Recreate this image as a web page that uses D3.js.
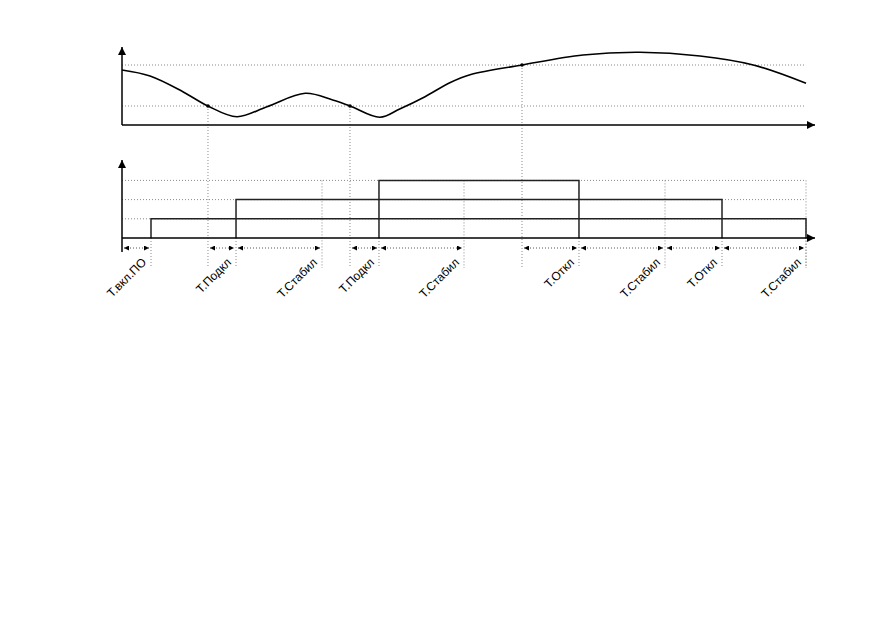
<!DOCTYPE html>
<html>
<head>
<meta charset="utf-8">
<script src="https://cdn.jsdelivr.net/npm/d3@7"></script>
<style>
  html, body { margin: 0; padding: 0; background: #fff; }
  svg { display: block; }
</style>
</head>
<body>
<svg id="chart" width="872" height="618"></svg>
<script>
// ---- data ----
// curve (top chart): time, value
const curveT = [0, 4.1, 8.9, 12.57, 16.8, 21.2, 26.8, 30.8, 33.33, 37.7, 40.6, 44.3, 48, 51, 58.48, 67.4, 75.7, 84.5, 92.3, 100];
const curveV = [55, 49, 33.3, 19, 8.3, 18.3, 31.7, 25, 19, 7.7, 16, 28.3, 42.5, 50.5, 60, 70, 72.7, 69, 60, 41.7];
const thresholdLevels = [19, 60];
const markedT = [12.57, 33.33, 58.48];
const markedV = [19, 19, 60];

// steps (bottom chart)
const stepLevels = [1, 2, 3];
const stepStart = [4.24, 16.67, 37.57];
const stepEnd = [100, 87.72, 66.81];

// intervals along time axis
const intervalStart = [0, 12.57, 16.67, 33.33, 37.57, 58.48, 66.81, 79.39, 87.72];
const intervalEnd = [4.24, 16.67, 29.24, 37.57, 50, 66.81, 79.39, 87.72, 100];
const intervalLabels = ["Т.вкл.ПО", "Т.Подкл", "Т.Стабил", "Т.Подкл", "Т.Стабил", "Т.Откл", "Т.Стабил", "Т.Откл", "Т.Стабил"];

// extra guide times that start at the top step level
const guideTopT = [29.24, 50, 79.39, 100];

// ---- scales ----
const svg = d3.select("#chart");
const x = d3.scaleLinear().domain([0, 100]).range([122, 806]);
const yTop = d3.scaleLinear().domain([0, 80]).range([125, 45]);
const yBot = d3.scaleLinear().domain([0, 4]).range([238, 161.2]);

const axisEnd = 815;
const dotted = "#8a8a8a";

// arrow markers
const defs = svg.append("defs");
defs.append("marker").attr("id", "axArrow").attr("viewBox", "0 0 10 10")
  .attr("refX", 10).attr("refY", 5).attr("markerWidth", 8).attr("markerHeight", 8)
  .attr("markerUnits", "userSpaceOnUse").attr("orient", "auto")
  .append("path").attr("d", "M0,0 L10,5 L0,10 z").attr("fill", "#000");
defs.append("marker").attr("id", "smArrowEnd").attr("viewBox", "0 0 10 10")
  .attr("refX", 10).attr("refY", 5).attr("markerWidth", 5).attr("markerHeight", 5)
  .attr("markerUnits", "userSpaceOnUse").attr("orient", "auto")
  .append("path").attr("d", "M0,0 L10,5 L0,10 z").attr("fill", "#000");
defs.append("marker").attr("id", "smArrowStart").attr("viewBox", "0 0 10 10")
  .attr("refX", 0).attr("refY", 5).attr("markerWidth", 5).attr("markerHeight", 5)
  .attr("markerUnits", "userSpaceOnUse").attr("orient", "auto")
  .append("path").attr("d", "M10,0 L0,5 L10,10 z").attr("fill", "#000");

// ---- top chart ----
const gTop = svg.append("g");
gTop.selectAll("line.thr").data(thresholdLevels).join("line")
  .attr("x1", x(0)).attr("x2", x(100))
  .attr("y1", d => yTop(d)).attr("y2", d => yTop(d))
  .attr("stroke", dotted).attr("stroke-width", 1).attr("stroke-dasharray", "1,2");

gTop.selectAll("line.vg").data(markedT.map((t, i) => [t, markedV[i]])).join("line")
  .attr("x1", d => x(d[0])).attr("x2", d => x(d[0]))
  .attr("y1", d => yTop(d[1])).attr("y2", 268)
  .attr("stroke", dotted).attr("stroke-width", 1).attr("stroke-dasharray", "1,2");

gTop.append("line").attr("x1", x(0)).attr("x2", x(0)).attr("y1", yTop(0)).attr("y2", 47)
  .attr("stroke", "#000").attr("stroke-width", 1.5).attr("marker-end", "url(#axArrow)");
gTop.append("line").attr("x1", x(0)).attr("x2", axisEnd).attr("y1", yTop(0)).attr("y2", yTop(0))
  .attr("stroke", "#000").attr("stroke-width", 1.5).attr("marker-end", "url(#axArrow)");

const pts = curveT.map((t, i) => [t, curveV[i]]);
gTop.append("path").datum(pts)
  .attr("d", d3.line().x(d => x(d[0])).y(d => yTop(d[1])).curve(d3.curveCatmullRom.alpha(0.5)))
  .attr("fill", "none").attr("stroke", "#000").attr("stroke-width", 1.6);

gTop.selectAll("circle").data(markedT.map((t, i) => [t, markedV[i]])).join("circle")
  .attr("cx", d => x(d[0])).attr("cy", d => yTop(d[1])).attr("r", 1.8).attr("fill", "#000");

// ---- bottom chart ----
const gBot = svg.append("g");
gBot.selectAll("line.lvl").data(stepLevels).join("line")
  .attr("x1", x(0)).attr("x2", x(100))
  .attr("y1", d => yBot(d)).attr("y2", d => yBot(d))
  .attr("stroke", dotted).attr("stroke-width", 1).attr("stroke-dasharray", "1,2");

gBot.selectAll("line.gt").data(guideTopT).join("line")
  .attr("x1", d => x(d)).attr("x2", d => x(d))
  .attr("y1", yBot(3)).attr("y2", 268)
  .attr("stroke", dotted).attr("stroke-width", 1).attr("stroke-dasharray", "1,2");

const edgeT = stepStart.concat(stepEnd);
gBot.selectAll("line.et").data(edgeT).join("line")
  .attr("x1", d => x(d)).attr("x2", d => x(d))
  .attr("y1", yBot(0)).attr("y2", 268)
  .attr("stroke", dotted).attr("stroke-width", 1).attr("stroke-dasharray", "1,2");

gBot.selectAll("path.step").data(stepLevels.map((l, i) => ({l, s: stepStart[i], e: stepEnd[i]}))).join("path")
  .attr("d", d => `M${x(d.s)},${yBot(0)}V${yBot(d.l)}H${x(d.e)}V${yBot(0)}`)
  .attr("fill", "none").attr("stroke", "#222").attr("stroke-width", 1.5);

gBot.append("line").attr("x1", x(0)).attr("x2", x(0)).attr("y1", 252).attr("y2", 160)
  .attr("stroke", "#000").attr("stroke-width", 1.5).attr("marker-end", "url(#axArrow)");
gBot.append("line").attr("x1", x(0)).attr("x2", axisEnd).attr("y1", yBot(0)).attr("y2", yBot(0))
  .attr("stroke", "#000").attr("stroke-width", 1.5).attr("marker-end", "url(#axArrow)");

const arrowY = 248;
const iv = intervalStart.map((s, i) => ({s, e: intervalEnd[i], label: intervalLabels[i]}));
gBot.selectAll("line.iv").data(iv).join("line")
  .attr("x1", d => x(d.s) + 2).attr("x2", d => x(d.e) - 2)
  .attr("y1", arrowY).attr("y2", arrowY)
  .attr("stroke", "#555").attr("stroke-width", 1).attr("stroke-dasharray", "1,2")
  .attr("marker-start", "url(#smArrowStart)").attr("marker-end", "url(#smArrowEnd)");

gBot.selectAll("text.lbl").data(iv).join("text")
  .attr("transform", d => `translate(${x(d.e) - 4},${263}) rotate(-45)`)
  .attr("text-anchor", "end")
  .attr("font-family", "Liberation Sans, Arial, sans-serif")
  .attr("font-size", 12)
  .attr("fill", "#000")
  .text(d => d.label);
</script>
</body>
</html>
